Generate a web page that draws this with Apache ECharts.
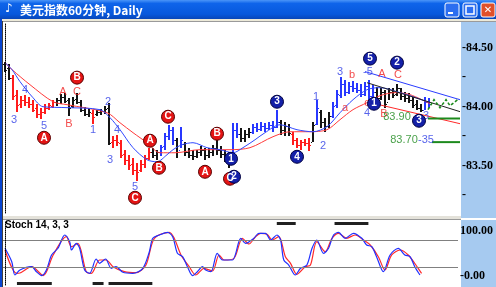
<!DOCTYPE html>
<html><head><meta charset="utf-8">
<script src="https://cdn.jsdelivr.net/npm/echarts@6/dist/echarts.min.js"></script>
<style>html,body{margin:0;padding:0;background:#fff;overflow:hidden}#c{width:496px;height:287px}</style>
</head><body><div id="c"></div>
<script>
// ---------- DATA ----------
const opens=[84.364,84.331,84.246,84.102,84.025,84.059,84.042,84.025,83.992,83.941,
83.958,83.992,84.008,84.042,84.059,84.085,84.059,84.008,84.068,84.042,
83.975,83.941,83.949,83.941,83.958,83.966,83.992,83.703,83.720,83.695,
83.602,83.551,83.517,83.466,83.466,83.517,83.568,83.619,83.593,83.619,
83.669,83.754,83.805,83.720,83.636,83.686,83.619,83.593,83.585,83.619,
83.636,83.593,83.619,83.653,83.636,83.602,83.568,83.568,83.805,83.771,
83.737,83.771,83.788,83.831,83.814,83.839,83.822,83.847,83.831,83.873,
83.805,83.839,83.771,83.720,83.678,83.703,83.695,83.703,83.856,83.958,
83.873,83.839,83.924,84.017,84.102,84.195,84.127,84.178,84.161,84.144,
84.110,84.178,84.093,84.127,84.076,84.127,84.042,84.127,84.110,84.161,
84.093,84.076,84.059,84.025,83.992,83.975,84.042];
const closes=[84.314,84.246,84.093,84.017,84.059,84.042,84.025,83.975,83.941,83.958,
83.992,84.017,84.042,84.059,84.085,84.051,83.992,84.059,84.042,83.975,
83.941,83.958,83.915,83.958,83.966,83.983,83.695,83.720,83.703,83.593,
83.551,83.508,83.466,83.449,83.517,83.568,83.619,83.593,83.619,83.661,
83.754,83.805,83.720,83.619,83.720,83.619,83.593,83.585,83.619,83.636,
83.593,83.619,83.653,83.636,83.602,83.568,83.551,83.805,83.771,83.737,
83.771,83.788,83.831,83.814,83.839,83.822,83.847,83.831,83.873,83.805,
83.839,83.780,83.720,83.678,83.703,83.695,83.678,83.847,83.992,83.873,
83.839,83.924,84.008,84.110,84.195,84.127,84.178,84.161,84.144,84.110,
84.178,84.093,84.127,84.076,84.127,84.025,84.127,84.102,84.161,84.093,
84.076,84.059,84.017,83.992,83.975,84.042,84.025];
const lows=[84.297,84.229,84.059,83.958,83.992,84.008,83.992,83.958,83.907,83.898,
83.941,83.975,83.992,84.008,84.025,84.034,83.924,83.992,84.025,83.958,
83.924,83.915,83.856,83.924,83.932,83.941,83.678,83.653,83.669,83.568,
83.508,83.466,83.424,83.373,83.449,83.483,83.551,83.568,83.551,83.585,
83.636,83.720,83.678,83.568,83.653,83.585,83.568,83.551,83.568,83.585,
83.551,83.568,83.585,83.593,83.568,83.534,83.483,83.551,83.737,83.703,
83.703,83.737,83.771,83.788,83.797,83.788,83.805,83.788,83.822,83.763,
83.754,83.754,83.678,83.653,83.636,83.669,83.627,83.703,83.847,83.822,
83.788,83.822,83.907,83.992,84.076,84.093,84.110,84.127,84.119,84.085,
84.093,84.059,84.017,84.042,84.059,83.992,84.059,84.076,84.093,84.059,
84.042,84.034,83.992,83.975,83.958,83.975,83.992];
const highs=[84.381,84.364,84.271,84.144,84.093,84.102,84.085,84.059,84.025,83.992,
84.025,84.034,84.059,84.076,84.110,84.119,84.076,84.085,84.119,84.059,
84.000,83.992,83.975,83.975,83.983,84.008,84.034,83.754,83.763,83.720,
83.636,83.593,83.568,83.525,83.551,83.593,83.653,83.653,83.636,83.678,
83.780,83.847,83.831,83.737,83.831,83.703,83.653,83.636,83.636,83.669,
83.653,83.653,83.678,83.720,83.669,83.636,83.619,83.864,83.864,83.822,
83.805,83.822,83.856,83.864,83.873,83.864,83.873,83.881,83.975,83.890,
83.873,83.856,83.788,83.737,83.720,83.729,83.737,83.873,84.059,83.975,
83.907,83.958,84.042,84.144,84.254,84.229,84.212,84.220,84.203,84.195,
84.212,84.229,84.186,84.169,84.161,84.144,84.161,84.161,84.195,84.161,
84.127,84.119,84.085,84.059,84.025,84.085,84.076];
// bar colour groups: [first bar index, group]
const barGroups=[[0,'k'],[2,'r'],[13,'k'],[22,'r'],[23,'k'],[27,'r'],[37,'k'],[39,'b'],[43,'k'],[44,'b'],[45,'k'],[57,'b'],[59,'k'],[62,'b'],[69,'k'],[72,'r'],[77,'k'],[78,'b'],[79,'k'],[82,'b'],[93,'k'],[105,'b']];
// moving averages: [bar index, price]
const maFast=[[0,84.373],[1.75,84.314],[3.75,84.212],[7,84.076],[9.5,84.000],[15.5,83.992],[23.75,83.975],[26.25,83.907],[28.75,83.805],[32,83.653],[35.5,83.551],[38,83.534],[40.5,83.593],[42,83.636],[44.25,83.678],[47,83.695],[50.5,83.653],[53.75,83.636],[57,83.610],[59.5,83.653],[62.5,83.720],[65,83.780],[68.75,83.847],[73,83.805],[77,83.788],[80.5,83.831],[83.75,83.949],[87,84.059],[90.5,84.144],[93.75,84.161],[98.75,84.119],[102,84.085],[105.5,84.042]];
const maSlow=[[0,84.373],[1.75,84.314],[6.25,84.186],[12,84.042],[15.5,84.017],[25.5,83.949],[28.75,83.864],[32,83.780],[35.5,83.695],[38.75,83.610],[42.5,83.610],[48.75,83.636],[56.25,83.636],[61.25,83.653],[67,83.746],[71.25,83.788],[76.25,83.788],[80.5,83.805],[83.75,83.890],[87,83.975],[90.5,84.034],[93.75,84.093],[97.5,84.119],[101.25,84.102],[106.25,84.025]];
// drawn lines
const channelUpper=[[90,84.297],[113.75,84.059]];
const channelLower=[[92.5,84.025],[113.75,83.856]];
const channelMid=[[90.5,84.203],[113.75,83.958]];
const target1=[[105.75,83.90],[113.75,83.90]];
const target2=[[106.75,83.70],[113.75,83.70]];
const projection=[[105.75,83.975],[107.25,84.059],[108.75,83.992],[110.25,84.059],[111.25,84.008],[113.5,84.068]];
// wave labels: [bar index, price, text]
const blueText=[[2.25,83.890,'3'],[5,84.144,'4'],[9.75,83.839,'5'],[22,83.805,'1'],[25.75,84.042,'2'],[26.25,83.551,'3'],[28,83.805,'4'],[32.5,83.322,'5'],[77.75,84.085,'1'],[79.5,83.669,'2'],[83.75,84.297,'3'],[90.75,84.297,'-5'],[90.5,83.949,'4'],[105.25,83.924,'3'],[105.25,83.720,'-35']];
const redText=[[14.5,84.127,'A'],[16,83.856,'B'],[18,84.127,'C'],[85,83.992,'a'],[86.75,84.271,'b'],[90.5,84.034,'c'],[94.25,84.280,'A'],[94.75,83.941,'B'],[98.25,84.271,'C']];
const redCircles=[[18,84.246,'B'],[9.75,83.737,'A'],[40.75,83.915,'C'],[36.25,83.712,'A'],[38.5,83.483,'B'],[32.5,83.229,'C'],[50,83.449,'A'],[53,83.771,'B'],[56.25,83.390,'C']];
const blueCircles=[[56.5,83.559,'1'],[57.25,83.407,'2'],[68,84.042,'3'],[73,83.576,'4'],[91.25,84.407,'5'],[92.25,84.025,'1'],[98,84.373,'2'],[103.5,83.881,'3']];
const greenText=[[98,83.915,'83.90'],[99.75,83.720,'83.70']];
// stochastic 14,3,3: [bar index, value]
const stochK=[[0,61.6],[1.7,31.8],[2.5,2.2],[3.75,13.3],[6.7,20.7],[7.9,9.6],[9.2,1],[10.4,13.3],[11.7,46.7],[13.3,61.6],[15,91.1],[16.25,76.2],[16.7,57.8],[17.9,72.7],[18.75,61.6],[20,13.3],[21.25,6],[22.9,37.8],[23.75,28.2],[25.25,37.8],[26.7,17.1],[27.9,20.7],[29.6,8.2],[32.1,6],[34.6,17.1],[36.25,54],[37.1,83.8],[38.75,91.1],[40.8,97],[42.1,87.3],[43.3,50.4],[44.6,42.9],[45.8,20.7],[47.1,1],[48.3,9.6],[49.6,20.7],[50.4,13.3],[51.7,9.6],[53.3,50.4],[54.6,35.6],[57.1,35.6],[59.2,83.8],[60.4,72.7],[62.5,83.8],[63.75,94.9],[65.4,94.9],[66.7,80],[68.3,91.1],[69.2,80],[70,35.6],[71.25,24.4],[72.9,2.2],[74.2,17.1],[75.8,24.4],[77.1,61.6],[78.3,80],[80,50.4],[81.25,61.6],[82.5,91.1],[83.75,97],[85.4,83.8],[87.5,94.9],[89.6,83.8],[90.8,68.9],[92.1,65.1],[93.3,42.9],[95,9.6],[96.7,46.7],[98.75,61.6],[100.4,46.7],[101.7,42.9],[102.9,20.7],[104.2,2.2]];
const stochD=[[0,57.8],[2.9,6],[3.75,6.7],[6.7,20.7],[9.6,1],[12.1,46.7],[15.4,87.3],[16.7,65.1],[18.3,72.7],[20.4,9.6],[21.7,6],[23.75,35.6],[25.4,35.6],[27.1,20.7],[30,9.6],[32.9,7.3],[35.4,24.4],[37.5,83.8],[41.25,97],[42.5,83.8],[44.2,46.7],[46.25,20.7],[47.9,2.2],[50,17.1],[52.1,11.1],[53.75,46.7],[55,35.6],[57.5,39.3],[59.6,83.8],[61.25,71.1],[62.9,87.3],[64.2,94.9],[65.8,92.7],[67.1,80],[68.75,87.3],[70.4,42.9],[71.7,28.2],[73.3,3.8],[75.4,20.7],[76.7,24.4],[78.3,76.2],[80.4,54],[82.1,83.8],[83.75,94.9],[85.8,83.8],[87.9,91.1],[90,80],[91.7,68.9],[93.75,42.9],[95.4,13.3],[97.1,46.7],[99.2,57.8],[101.25,46.7],[103.75,17.1],[104.6,6]];
const stochLevels=[80,20];
const signalsLow=[[3,11.75],[22,24.75],[26,37]];
const signalsHigh=[[68.25,73],[82.75,91.25]];
const titleText='美元指数60分钟, Daily';
const panelTitle='Stoch 14, 3, 3';

// ---------- STYLE ----------
const BAR_COLORS={k:'#141414',r:'#ff1c1c',b:'#2838ff'};
function groupOf(idx){let g='k';for(const r of barGroups){if(r[0]<=idx)g=r[1];}return g;}
const barData=opens.map((o,k)=>[k,o,closes[k],lows[k],highs[k]]);

function renderBar(params, api){
  const i=api.value(0);
  const pO=api.coord([i,api.value(1)]), pC=api.coord([i,api.value(2)]);
  const pL=api.coord([i,api.value(3)]), pH=api.coord([i,api.value(4)]);
  const col=BAR_COLORS[groupOf(params.dataIndex)];
  const x=Math.round(pO[0]);
  const top=Math.round(pH[1]), bot=Math.round(pL[1]);
  return {type:'group',children:[
    {type:'rect',shape:{x:x-1,y:top,width:2,height:Math.max(1,bot-top)},style:{fill:col}},
    {type:'rect',shape:{x:x-2,y:Math.round(pO[1]),width:1,height:1},style:{fill:col}},
    {type:'rect',shape:{x:x+1,y:Math.round(pC[1]),width:1,height:1},style:{fill:col}}
  ]};
}
function textSeries(data,color,size,weight){
  return {type:'scatter',xAxisIndex:0,yAxisIndex:0,z:6,symbolSize:1,itemStyle:{color:'rgba(0,0,0,0)'},
    data:data,label:{show:true,position:'inside',formatter:p=>p.data[2],color:color,fontSize:size,
    fontFamily:'Liberation Sans, Arial',fontWeight:weight||'normal'},silent:true};
}
function circleSeries(data,fill,border){
  return {type:'scatter',xAxisIndex:0,yAxisIndex:0,z:7,symbol:'circle',symbolSize:13,
    itemStyle:{color:fill,borderColor:border,borderWidth:1,opacity:1},
    data:data,label:{show:true,position:'inside',formatter:p=>p.data[2],color:'#fff',fontSize:10,
    fontFamily:'Liberation Sans, Arial',fontWeight:'bold'},silent:true};
}
function lineSeg(coords,color,width,type,arrow){
  return {type:'lines',coordinateSystem:'cartesian2d',xAxisIndex:0,yAxisIndex:0,polyline:true,z:4,silent:true,
    symbol:arrow?['none','arrow']:['none','none'],symbolSize:7,
    lineStyle:{color:color,width:width,type:type||'solid',opacity:1},
    data:[{coords:coords}]};
}

const option={
  animation:false,
  backgroundColor:'#ffffff',
  grid:[{left:3,top:24,width:457,height:189},{left:3,top:222,width:457,height:63}],
  xAxis:[
    {gridIndex:0,type:'value',min:-0.5,max:113.75,show:false},
    {gridIndex:1,type:'value',min:-0.5,max:113.75,show:false}
  ],
  yAxis:[
    {gridIndex:0,type:'value',position:'right',min:83.1,max:84.7,interval:0.05,z:5,
     axisLine:{show:true,lineStyle:{color:'#000',type:'dotted',width:1}},
     axisTick:{show:false},splitLine:{show:false},
     axisLabel:{margin:2,color:'#000',fontFamily:'Liberation Serif',fontWeight:'bold',fontSize:12,
       formatter:function(v){const r=Math.round(v*100);if(r%50===0)return '-'+(r/100).toFixed(2);if(r%25===0)return '-';return '';}}},
    {gridIndex:1,type:'value',position:'right',min:-20,max:120,interval:20,z:5,
     axisLine:{show:true,lineStyle:{color:'#000',type:'dotted',width:1}},
     axisTick:{show:false},splitLine:{show:false},
     axisLabel:{margin:2,color:'#000',fontFamily:'Liberation Serif',fontWeight:'bold',fontSize:12,
       formatter:function(v){if(Math.round(v)===100)return '100.00';if(Math.round(v)===0)return '-0.00';return '';}}}
  ],
  series:[
    {type:'custom',xAxisIndex:0,yAxisIndex:0,z:2,renderItem:renderBar,data:barData,encode:{x:0,y:[1,2,3,4]},silent:true},
    {type:'line',xAxisIndex:0,yAxisIndex:0,z:3,data:maSlow,showSymbol:false,smooth:0.3,lineStyle:{color:'#ff3a3a',width:1},silent:true},
    {type:'line',xAxisIndex:0,yAxisIndex:0,z:3,data:maFast,showSymbol:false,smooth:0.3,lineStyle:{color:'#3048ff',width:1},silent:true},
    lineSeg(channelUpper,'#2a3cff',1),
    lineSeg(channelLower,'#ff2a2a',1),
    lineSeg(channelMid,'#222',1),
    lineSeg(target1,'#1d8a1d',2),
    lineSeg(target2,'#1d8a1d',2),
    lineSeg(projection,'#1d8a1d',1.6,[3,2],true),
    textSeries(blueText,'#2d3ce6',11),
    textSeries(redText,'#f02020',11),
    textSeries(greenText,'#1d8a1d',11),
    circleSeries(redCircles,'#e41414','#5a0000'),
    circleSeries(blueCircles,'#1420a8','#000040'),
    {type:'line',xAxisIndex:1,yAxisIndex:1,z:3,data:stochD,showSymbol:false,smooth:0.3,lineStyle:{color:'#ff2a2a',width:1.2},silent:true,
     markLine:{silent:true,symbol:['none','none'],label:{show:false},lineStyle:{color:'#808080',type:'solid',width:1},
       data:stochLevels.map(v=>({yAxis:v}))}},
    {type:'line',xAxisIndex:1,yAxisIndex:1,z:4,data:stochK,showSymbol:false,smooth:0.3,lineStyle:{color:'#2030ff',width:1.2},silent:true},
    {type:'lines',coordinateSystem:'cartesian2d',xAxisIndex:1,yAxisIndex:1,z:4,silent:true,lineStyle:{color:'#202020',width:3,opacity:1},
     data:signalsLow.map(s=>({coords:[[s[0],-16],[s[1],-16]]})).concat(signalsHigh.map(s=>({coords:[[s[0],117],[s[1],117]]})))}
  ],
  graphic:[
    {type:'rect',z:-5,silent:true,shape:{x:461,y:22,width:35,height:196},style:{fill:'#a6caf0'}},
    {type:'rect',z:-5,silent:true,shape:{x:461,y:220,width:35,height:67},style:{fill:'#a6caf0'}},
    {type:'rect',z:-4,silent:true,shape:{x:0,y:216,width:461,height:4},style:{fill:'#e4e2da'}},
    {type:'rect',z:-4,silent:true,shape:{x:0,y:219,width:461,height:1},style:{fill:'#9a9a9a'}},
    {type:'rect',z:90,silent:true,shape:{x:0,y:19,width:496,height:3},style:{fill:'#ece9d8'}},
    {type:'rect',z:90,silent:true,shape:{x:0,y:21,width:496,height:1},style:{fill:'#9a9a9a'}},
    {type:'rect',z:90,silent:true,shape:{x:0,y:19,width:2,height:268},style:{fill:'#0a46d0'}},
    {type:'rect',z:90,silent:true,shape:{x:2,y:21,width:1,height:266},style:{fill:'#404040'}},
    {type:'rect',z:100,silent:true,shape:{x:0,y:0,width:496,height:19},
     style:{fill:new echarts.graphic.LinearGradient(0,0,0,1,[{offset:0,color:'#4a95f8'},{offset:0.18,color:'#0e64ea'},{offset:0.75,color:'#0758dc'},{offset:1,color:'#0846b8'}])}},
    {type:'text',z:101,silent:true,x:5,y:3,style:{text:'♪',fill:'#fff',font:'bold 12px DejaVu Sans'}},
    {type:'text',z:101,silent:true,x:20,y:10,style:{text:titleText,fill:'#fff',font:'bold 12px "Noto Sans CJK SC", sans-serif',verticalAlign:'middle'}},
    {type:'rect',z:101,silent:true,shape:{x:445,y:3,width:14,height:14,r:2},style:{fill:'#2c6ef0',stroke:'#fff',lineWidth:1}},
    {type:'rect',z:102,silent:true,shape:{x:448,y:12,width:5,height:2},style:{fill:'#fff'}},
    {type:'rect',z:101,silent:true,shape:{x:463,y:3,width:14,height:14,r:2},style:{fill:'#2c6ef0',stroke:'#fff',lineWidth:1}},
    {type:'rect',z:102,silent:true,shape:{x:466,y:6,width:8,height:8},style:{fill:'none',stroke:'#fff',lineWidth:1.5}},
    {type:'rect',z:101,silent:true,shape:{x:481,y:3,width:14,height:14,r:2},style:{fill:'#e0502a',stroke:'#fff',lineWidth:1}},
    {type:'text',z:102,silent:true,x:488,y:10,style:{text:'✕',fill:'#fff',font:'bold 10px DejaVu Sans',align:'center',verticalAlign:'middle'}},
    {type:'text',z:10,silent:true,x:5,y:225,style:{text:panelTitle,fill:'#000',font:'bold 10px "Liberation Sans", Arial',verticalAlign:'middle'}}
  ]
};
const chart=echarts.init(document.getElementById('c'),null,{renderer:'canvas'});
chart.setOption(option);
</script></body></html>
